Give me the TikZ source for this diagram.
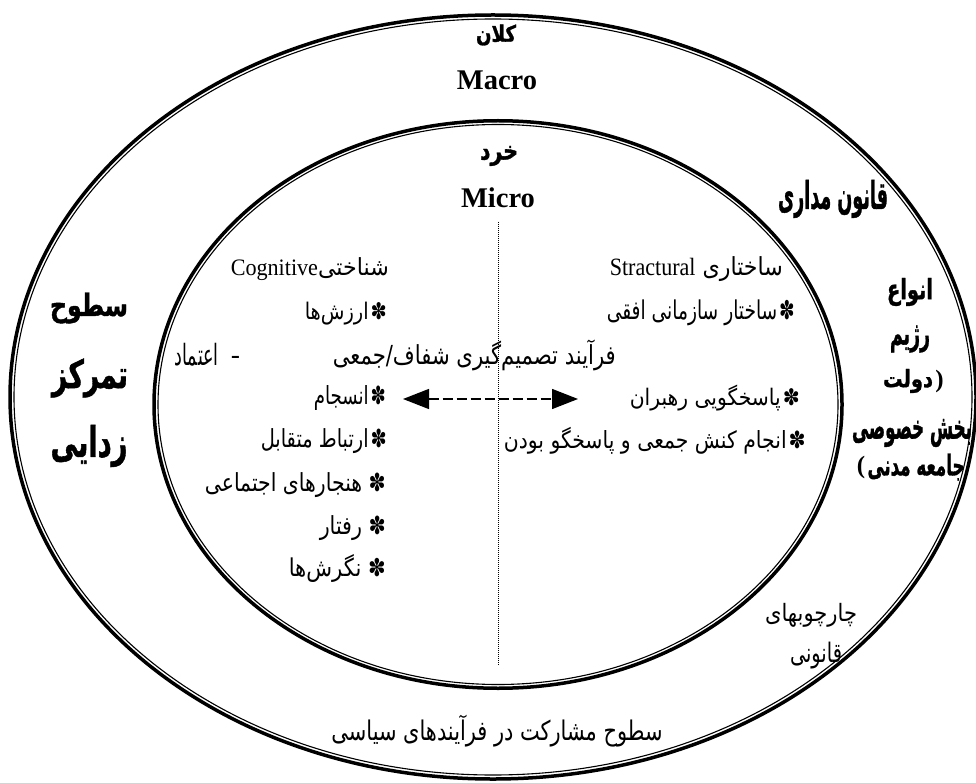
\documentclass[tikz,border=0pt]{standalone}
\usepackage{fontspec}
\usepackage{graphicx}
\setmainfont{Liberation Serif}
\newfontfamily\arabicfont[Script=Arabic]{DejaVu Sans}
\newfontfamily\arabicheavy[Script=Arabic, BoldFeatures={FakeBold=1.3}]{DejaVu Sans}
\TeXXeTstate=1
\usetikzlibrary{arrows.meta}
% width, total height, text
\newcommand{\fatext}[3]{\resizebox*{#1pt}{#2pt}{\arabicfont #3}}
\newcommand{\fabold}[3]{\resizebox*{#1pt}{#2pt}{\arabicheavy\bfseries #3}}
\newcommand{\bulstar}{✽\kern1pt}
\begin{document}
\begin{tikzpicture}[x=1pt,y=-1pt,
  txt/.style={inner sep=0pt},
  rt/.style={inner sep=0pt, anchor=east},
  paren/.style={inner sep=0pt, font=\fontsize{25}{26}\selectfont\bfseries},
  ringthick/.style={line width=3.5pt},
  ringthin/.style={line width=1.1pt},
  latin/.style={inner sep=0pt, font=\fontsize{28.5}{30}\selectfont\bfseries},
  divider/.style={line width=1pt, dash pattern=on 1pt off 1pt},
  linkarrow/.style={line width=1.4pt, dash pattern=on 10pt off 4pt,
     {Triangle[length=26pt,width=20pt]}-{Triangle[length=26pt,width=20pt]}}
]
\useasboundingbox (0,0) rectangle (976,783);
\fill[white] (0,0) rectangle (976,783);

% rings
\draw[ringthick] (493,397) ellipse [x radius=483pt, y radius=382pt];
\draw[ringthin]  (493,397) ellipse [x radius=479pt, y radius=378pt];
\draw[ringthick] (498,404.5) ellipse [x radius=344pt, y radius=283.75pt];
\draw[ringthin]  (498,404.5) ellipse [x radius=340pt, y radius=280pt];

% top labels
\node[txt] (kalan) at (496,35) {\fabold{40}{21}{\beginR کلان\endR}};
\node[latin] (macro) at (497,80) {Macro};
\node[txt] (khord) at (499,156) {\fabold{38}{20}{\beginR خرد\endR}};
\node[latin] (micro) at (498,198) {Micro};

% divider
\coordinate (dtop) at (498,222);
\coordinate (dbot) at (498,665);
\draw[divider] (dtop) -- (dbot);

% right column (structural)
\node[rt] (s0) at (783,269) {\fatext{173}{25}{\beginR ساختاری \beginL{\rmfamily Stractural}\endL\endR}};
\node[rt] (s1) at (795,313) {\fatext{188}{26}{\beginR \bulstar ساختار سازمانی افقی\endR}};
\node[rt] (s2) at (800,398) {\fatext{170}{26}{\beginR \bulstar پاسخگویی رهبران\endR}};
\node[rt] (s3) at (806,441) {\fatext{302}{27}{\beginR \bulstar انجام کنش جمعی و پاسخگو بودن\endR}};

% middle line
\node[rt] (proc) at (616,355) {\fatext{283}{31}{\beginR فرآیند تصمیم‌گیری شفاف/جمعی\endR}};
\node[rt] (trust) at (240,355) {\fatext{65}{23}{\beginR –\hspace{0.7em}اعتماد\endR}};

% left column (cognitive)
\node[rt] (c0) at (389,269) {\fatext{158}{23}{\beginR شناختی\beginL{\rmfamily Cognitive}\endL\endR}};
\node[rt] (c1) at (387,314) {\fatext{82}{23}{\beginR \bulstar ارزش‌ها\endR}};
\node[rt] (c2) at (386,398) {\fatext{72}{25}{\beginR \bulstar انسجام\endR}};
\node[rt] (c3) at (387,441) {\fatext{126}{25}{\beginR \bulstar ارتباط متقابل\endR}};
\node[rt] (c4) at (386,485) {\fatext{181}{25}{\beginR ✽ هنجارهای اجتماعی\endR}};
\node[rt] (c5) at (386,528) {\fatext{66}{25}{\beginR ✽ رفتار\endR}};
\node[rt] (c6) at (386,568) {\fatext{97}{28}{\beginR ✽ نگرش‌ها\endR}};

% arrow
\coordinate (al) at (403,399);
\coordinate (ar) at (578,399);
\draw[linkarrow] (al) -- (ar);

% right bold labels
\node[txt] (rule) at (833,199) {\fabold{110}{38}{\beginR قانون مداری\endR}};
\node[txt] (r1) at (910,292) {\fabold{46}{28}{\beginR انواع\endR}};
\node[txt] (r2) at (910,339) {\fabold{40}{27}{\beginR رژیم\endR}};
\node[txt] (r3) at (908,381) {\fabold{50}{24}{\beginR دولت\endR}};
\node[paren, anchor=west] (r3p) at ([xshift=2pt]r3.east) {)};
\node[txt] (r4) at (912,433) {\fabold{120}{28}{\beginR بخش خصوصی\endR}};
\node[txt] (r5) at (916,467) {\fabold{97}{27}{\beginR جامعه مدنی\endR}};
\node[paren, anchor=east] (r5p) at ([xshift=-2pt]r5.west) {(};

% left bold labels
\node[txt] (l1) at (89,308) {\fabold{78}{31}{\beginR سطوح\endR}};
\node[txt] (l2) at (90,378) {\fabold{76}{39}{\beginR تمرکز\endR}};
\node[txt] (l3) at (89,446) {\fabold{77}{42}{\beginR زدایی\endR}};

% bottom labels
\node[txt] (f1) at (811,615) {\fatext{92}{24}{\beginR چارچوبهای\endR}};
\node[txt] (f2) at (816,656) {\fatext{52}{27}{\beginR قانونی\endR}};
\node[txt] (part) at (497,731) {\fatext{331}{32}{\beginR سطوح مشارکت در فرآیندهای سیاسی\endR}};
\end{tikzpicture}
\end{document}
